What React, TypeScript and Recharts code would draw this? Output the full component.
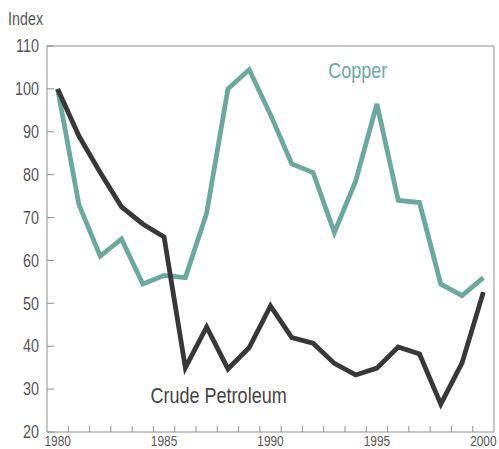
import React from 'react';
import { LineChart, Line, XAxis, YAxis, ReferenceLine, ReferenceDot } from 'recharts';

// Commodity price indices, 1980 = 100
const years = [
  1980, 1981, 1982, 1983, 1984, 1985, 1986, 1987, 1988, 1989, 1990,
  1991, 1992, 1993, 1994, 1995, 1996, 1997, 1998, 1999, 2000,
];
const copper = [
  100, 73, 61, 65, 54.5, 56.5, 56, 71, 100, 104.5, 94,
  82.5, 80.5, 66.5, 78.5, 96.5, 74, 73.5, 54.5, 51.8, 56,
];
const crudePetroleum = [
  100, 89, 80.5, 72.5, 68.5, 65.5, 35, 44.5, 34.7, 39.7, 49.4,
  42, 40.7, 36, 33.3, 34.9, 39.8, 38.2, 26.5, 36.1, 52.6,
];
const yTicks = [20, 30, 40, 50, 60, 70, 80, 90, 100, 110];
const yInnerTicks = [30, 40, 50, 60, 70, 80, 90, 100];
const yearLabels = [1980, 1985, 1990, 1995, 2000];
// minor tick marks sit between the years
const halfYearTicks = years.slice(0, -1).map((y) => y + 0.5);

const data = years.map((year, i) => ({
  year,
  copper: copper[i],
  crude: crudePetroleum[i],
}));

const font = '"Liberation Sans", Arial, sans-serif';
const narrow = 0.82; // squeeze Liberation Sans to look like a condensed face
const copperColor = '#6aaa9e';
const crudeColor = '#383838';
const axisColor = '#8f8f8f';
const textColor = '#555555';

const NarrowText = ({ x, y, size, fill, anchor = 'middle', children }: any) => (
  <text
    transform={`translate(${x},${y}) scale(${narrow},1)`}
    x={0}
    y={0}
    textAnchor={anchor}
    fill={fill}
    fontSize={size}
    fontFamily={font}
  >
    {children}
  </text>
);

const XTick = (props: any) => {
  const { x, y, payload } = props;
  const v = payload.value;
  if (v % 1 !== 0) {
    return <line x1={x} x2={x} y1={y} y2={y - 6} stroke={axisColor} strokeWidth={1} />;
  }
  if (!yearLabels.includes(v)) return null;
  return (
    <NarrowText x={x} y={y + 13.5} size={14.5} fill={textColor}>
      {v}
    </NarrowText>
  );
};

const YTick = (props: any) => {
  const { x, y, payload } = props;
  return (
    <NarrowText x={x} y={y + 6.2} size={17.5} fill={textColor} anchor="end">
      {payload.value}
    </NarrowText>
  );
};

const seriesLabel = (text: string, color: string) => (props: any) => {
  const vb = props.viewBox || {};
  const cx = vb.x + (vb.width || 0) / 2;
  const cy = vb.y + (vb.height || 0) / 2;
  return (
    <NarrowText x={cx} y={cy + 8} size={22} fill={color}>
      {text}
    </NarrowText>
  );
};

const xTickValues = [...years, ...halfYearTicks].sort((a, b) => a - b);

export default function App() {
  return (
    <div style={{ position: 'absolute', left: 0, top: 0, width: 499, height: 449, background: '#fff' }}>
      <LineChart width={499} height={449} data={data} margin={{ top: 46, right: 0, left: 0, bottom: 0 }}>
        <XAxis
          dataKey="year"
          type="number"
          domain={[1979.5, 2000.5]}
          ticks={xTickValues}
          interval={0}
          height={17}
          tickSize={0}
          tickMargin={0}
          tickLine={false}
          tick={<XTick />}
          axisLine={{ stroke: axisColor }}
        />
        <YAxis
          yAxisId="left"
          type="number"
          domain={[20, 110]}
          ticks={yTicks}
          interval={0}
          width={47}
          tickSize={-7}
          tickMargin={15}
          axisLine={{ stroke: axisColor }}
          tickLine={{ stroke: axisColor }}
          tick={<YTick />}
        />
        <YAxis
          yAxisId="right"
          orientation="right"
          type="number"
          domain={[20, 110]}
          ticks={yInnerTicks}
          interval={0}
          width={5}
          tickSize={-6}
          tick={false}
          axisLine={{ stroke: axisColor }}
          tickLine={{ stroke: axisColor }}
        />
        <ReferenceLine yAxisId="left" y={110} stroke={axisColor} />
        <Line
          yAxisId="left"
          dataKey="copper"
          stroke={copperColor}
          strokeWidth={4.8}
          strokeLinejoin="miter"
          dot={false}
          type="linear"
          isAnimationActive={false}
        />
        <Line
          yAxisId="left"
          dataKey="crude"
          stroke={crudeColor}
          strokeWidth={4.8}
          strokeLinejoin="miter"
          dot={false}
          type="linear"
          isAnimationActive={false}
        />
        <ReferenceDot
          yAxisId="left"
          x={1994.1}
          y={104.5}
          r={1}
          fill="none"
          stroke="none"
          label={seriesLabel('Copper', copperColor)}
        />
        <ReferenceDot
          yAxisId="left"
          x={1987.56}
          y={28.6}
          r={1}
          fill="none"
          stroke="none"
          label={seriesLabel('Crude Petroleum', '#444444')}
        />
      </LineChart>
      <svg width={70} height={32} style={{ position: 'absolute', left: 0, top: 0 }}>
        <NarrowText x={8} y={25} size={17.5} fill={textColor} anchor="start">
          Index
        </NarrowText>
      </svg>
    </div>
  );
}
